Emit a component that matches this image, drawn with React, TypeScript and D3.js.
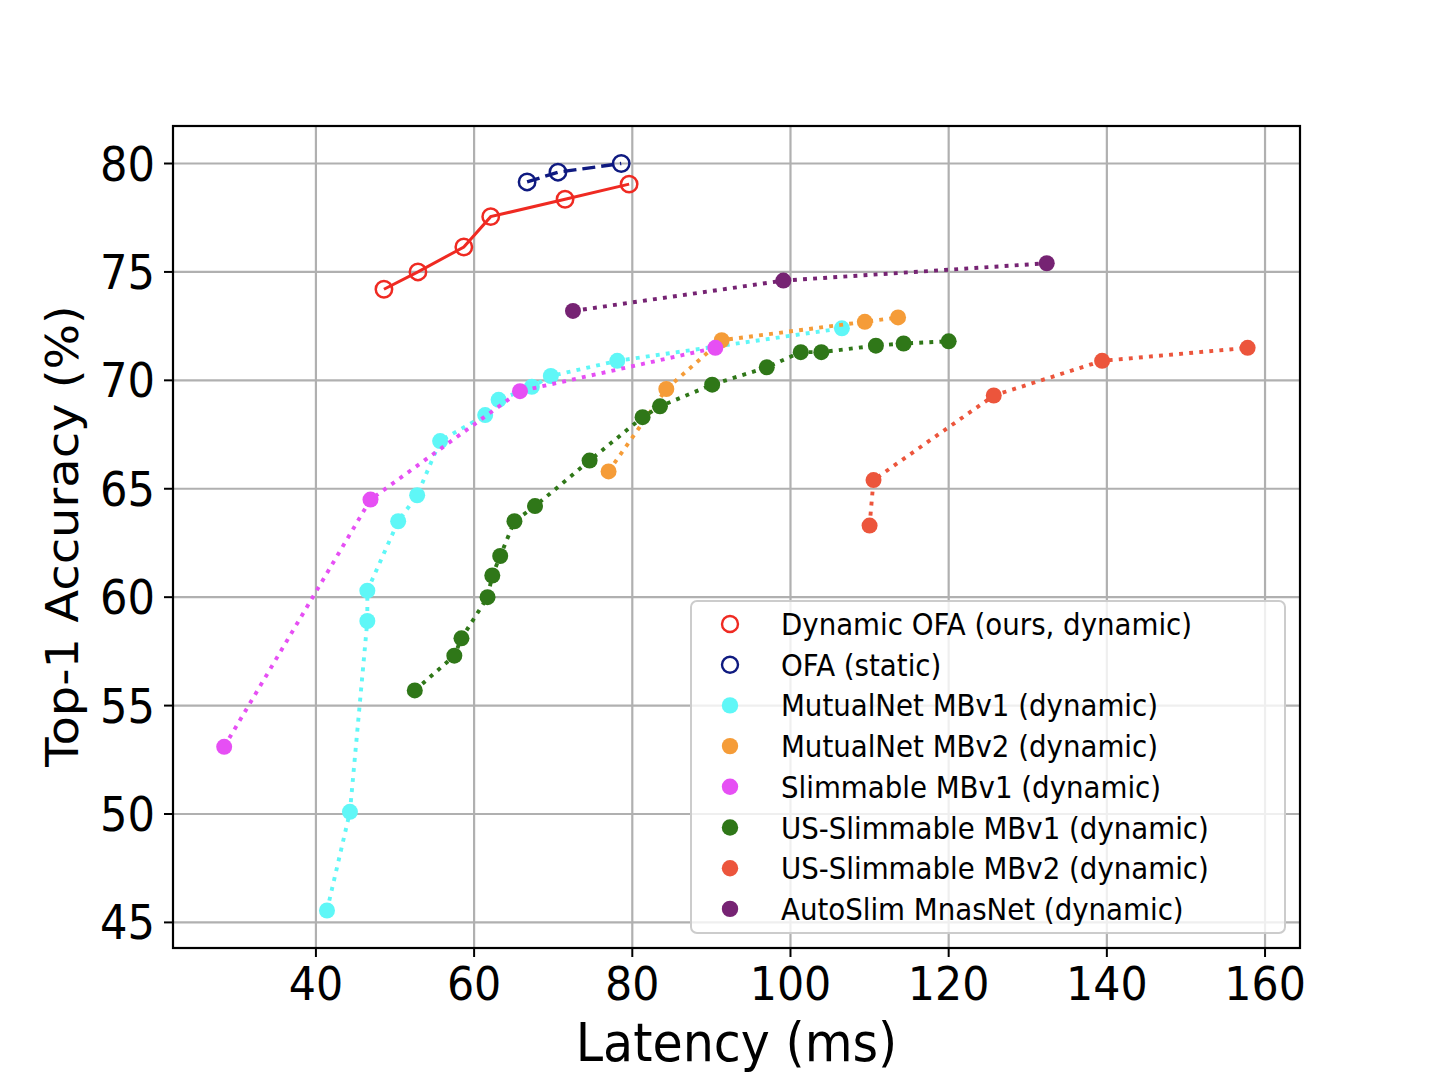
import React from 'react';
import * as d3 from 'd3';

// latency (ms) / top-1 accuracy (%)
const dynOfaLatency = [48.6, 52.9, 58.7, 62.1, 71.5, 79.6];
const dynOfaAccuracy = [74.2, 75.0, 76.15, 77.55, 78.35, 79.05];

const ofaLatency = [66.7, 70.6, 78.6];
const ofaAccuracy = [79.15, 79.6, 80.0];

const mutualV1Latency = [41.4, 44.3, 46.5, 46.5, 50.4, 52.8, 55.7, 61.4, 63.1, 67.3, 69.7, 78.1, 106.5];
const mutualV1Accuracy = [45.55, 50.1, 58.9, 60.3, 63.5, 64.7, 67.2, 68.4, 69.1, 69.7, 70.2, 70.9, 72.4];

const mutualV2Latency = [77.0, 84.3, 91.3, 109.4, 113.6];
const mutualV2Accuracy = [65.8, 69.6, 71.85, 72.7, 72.9];

const slimV1Latency = [28.4, 46.9, 65.8, 90.5];
const slimV1Accuracy = [53.1, 64.5, 69.5, 71.5];

const usSlimV1Latency = [52.5, 57.5, 58.4, 61.7, 62.3, 63.3, 65.1, 67.7, 74.6, 81.3, 83.5, 90.1, 97.0, 101.3, 103.9, 110.8, 114.3, 120.0];
const usSlimV1Accuracy = [55.7, 57.3, 58.1, 60.0, 61.0, 61.9, 63.5, 64.2, 66.3, 68.3, 68.8, 69.8, 70.6, 71.3, 71.3, 71.6, 71.7, 71.8];

const usSlimV2Latency = [110.0, 110.5, 125.7, 139.4, 157.8];
const usSlimV2Accuracy = [63.3, 65.4, 69.3, 70.9, 71.5];

const autoSlimLatency = [72.5, 99.1, 132.4];
const autoSlimAccuracy = [73.2, 74.6, 75.4];

const xTicks = [40, 60, 80, 100, 120, 140, 160];
const yTicks = [45, 50, 55, 60, 65, 70, 75, 80];

interface Series {
  label: string;
  lat: number[];
  acc: number[];
  color: string;
  hollow: boolean;
  dash: string | null;
  lw: number;
}

const series: Series[] = [
  { label: 'Dynamic OFA (ours, dynamic)', lat: dynOfaLatency, acc: dynOfaAccuracy, color: '#ef2a22', hollow: true, dash: null, lw: 3 },
  { label: 'OFA (static)', lat: ofaLatency, acc: ofaAccuracy, color: '#0f1a80', hollow: true, dash: '13,6', lw: 3.4 },
  { label: 'MutualNet MBv1 (dynamic)', lat: mutualV1Latency, acc: mutualV1Accuracy, color: '#5ff7f7', hollow: false, dash: '3.9,6.2', lw: 3.9 },
  { label: 'MutualNet MBv2 (dynamic)', lat: mutualV2Latency, acc: mutualV2Accuracy, color: '#f59c38', hollow: false, dash: '3.9,6.2', lw: 3.9 },
  { label: 'Slimmable MBv1 (dynamic)', lat: slimV1Latency, acc: slimV1Accuracy, color: '#e64ff4', hollow: false, dash: '3.9,6.2', lw: 3.9 },
  { label: 'US-Slimmable MBv1 (dynamic)', lat: usSlimV1Latency, acc: usSlimV1Accuracy, color: '#2f7718', hollow: false, dash: '3.9,6.2', lw: 3.9 },
  { label: 'US-Slimmable MBv2 (dynamic)', lat: usSlimV2Latency, acc: usSlimV2Accuracy, color: '#ec553c', hollow: false, dash: '3.9,6.2', lw: 3.9 },
  { label: 'AutoSlim MnasNet (dynamic)', lat: autoSlimLatency, acc: autoSlimAccuracy, color: '#762373', hollow: false, dash: '3.9,6.2', lw: 3.9 },
];

const W = 1439;
const H = 1077;
const left = 173, right = 1300, top = 126, bottom = 948;
const FONT = 'DejaVu Sans';
const SQ = 0.91; // the picture is a bit squeezed horizontally

const x = d3.scaleLinear().domain([21.93, 164.42]).range([left, right]);
const y = d3.scaleLinear().domain([43.82, 81.73]).range([bottom, top]);

const Txt = ({ tx, ty, size, anchor, rotate, children }: any) => (
  <g transform={`translate(${tx},${ty})${rotate ? ` rotate(${rotate})` : ''} scale(${rotate ? 1 : SQ},${rotate ? SQ : 1})`}>
    <text fontFamily={FONT} fontSize={size} textAnchor={anchor} fill="#000">{children}</text>
  </g>
);

const App: React.FC = () => {
  const line = d3.line<[number, number]>().x(d => x(d[0])).y(d => y(d[1]));
  const legX = 691, legY = 601, legW = 594, legH = 332;
  const rowGap = 40.7;

  return (
    <div style={{ position: 'absolute', left: 0, top: 0 }}>
      <svg width={W} height={H} style={{ display: 'block', background: '#fff' }}>
        <defs>
          <clipPath id="plot">
            <rect x={left} y={top} width={right - left} height={bottom - top} />
          </clipPath>
        </defs>
        {/* grid */}
        {xTicks.map(t => (
          <line key={'gx' + t} x1={x(t)} x2={x(t)} y1={top} y2={bottom} stroke="#b0b0b0" strokeWidth={2.2} />
        ))}
        {yTicks.map(t => (
          <line key={'gy' + t} x1={left} x2={right} y1={y(t)} y2={y(t)} stroke="#b0b0b0" strokeWidth={2.2} />
        ))}

        {/* series */}
        <g clipPath="url(#plot)">
          {series.map(s => {
            const pts = s.lat.map((l, i) => [l, s.acc[i]] as [number, number]);
            return (
              <g key={s.label}>
                <path d={line(pts) || ''} fill="none" stroke={s.color} strokeWidth={s.lw}
                  strokeDasharray={s.dash || undefined} />
                {pts.map((p, i) => s.hollow ? (
                  <circle key={i} cx={x(p[0])} cy={y(p[1])} r={8.2} fill="none" stroke={s.color} strokeWidth={2.5} />
                ) : (
                  <circle key={i} cx={x(p[0])} cy={y(p[1])} r={8} fill={s.color} />
                ))}
              </g>
            );
          })}
        </g>

        {/* frame */}
        <rect x={left} y={top} width={right - left} height={bottom - top} fill="none" stroke="#000" strokeWidth={2.2} />

        {/* ticks */}
        {xTicks.map(t => (
          <g key={'tx' + t}>
            <line x1={x(t)} x2={x(t)} y1={bottom} y2={bottom + 9} stroke="#000" strokeWidth={2} />
            <Txt tx={x(t)} ty={1000} size={47} anchor="middle">{t}</Txt>
          </g>
        ))}
        {yTicks.map(t => (
          <g key={'ty' + t}>
            <line x1={left - 9} x2={left} y1={y(t)} y2={y(t)} stroke="#000" strokeWidth={2} />
            <Txt tx={155} ty={y(t) + 17} size={47.5} anchor="end">{t}</Txt>
          </g>
        ))}

        {/* axis labels */}
        <Txt tx={(left + right) / 2} ty={1061} size={54} anchor="middle">Latency (ms)</Txt>
        <Txt tx={78} ty={(top + bottom) / 2 - 1} size={48} anchor="middle" rotate={-90}>Top-1 Accuracy (%)</Txt>

        {/* legend */}
        <rect x={legX} y={legY} width={legW} height={legH} rx={6} fill="#fff" fillOpacity={0.8} stroke="#cccccc" strokeWidth={2} />
        {series.map((s, i) => {
          const cy = legY + 23 + i * rowGap;
          return (
            <g key={'lg' + s.label}>
              {s.hollow ? (
                <circle cx={730} cy={cy} r={8} fill="none" stroke={s.color} strokeWidth={2.4} />
              ) : (
                <circle cx={730} cy={cy} r={8.2} fill={s.color} />
              )}
              <Txt tx={781} ty={cy + 11} size={30.4} anchor="start">{s.label}</Txt>
            </g>
          );
        })}
      </svg>
    </div>
  );
};

export default App;
